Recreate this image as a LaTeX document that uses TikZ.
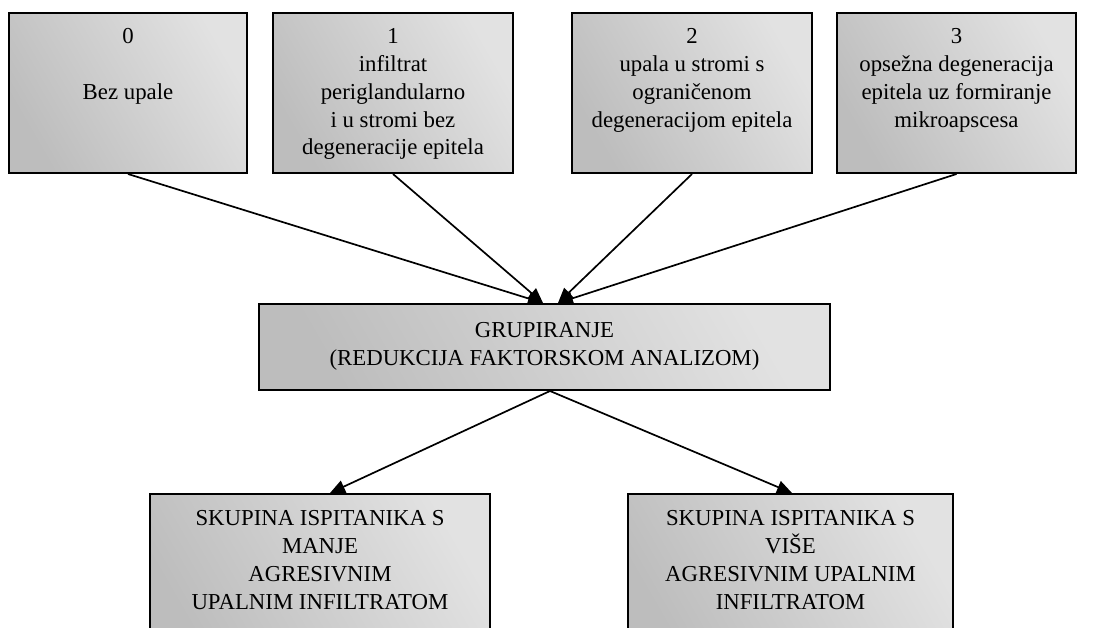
\documentclass[tikz,border=0pt]{standalone}
\usepackage{fontspec}
\setmainfont{Liberation Serif}
\usetikzlibrary{arrows.meta}
\definecolor{gdark}{HTML}{BDBDBD}
\definecolor{glight}{HTML}{E2E2E2}
\tikzset{
  gbox/.style={draw=black, line width=2pt, rectangle, inner sep=0pt,
    left color=gdark, right color=glight, shading angle=120},
  txt/.style={font=\fontsize{22.8}{27.8}\selectfont, align=center, inner sep=0pt, anchor=north},
  ctxt/.style={font=\fontsize{22.8}{27.8}\selectfont, align=center, inner sep=0pt},
  conn/.style={line width=1.7pt, -{Triangle[length=15pt,width=13pt]}}
}
\begin{document}
\begin{tikzpicture}[x=1pt,y=1pt]
\useasboundingbox (0,0) rectangle (1105,-628);
\fill[white] (0,0) rectangle (1105,-628);
% top boxes
\node[gbox, minimum width=238, minimum height=160] (b0) at (128,-93) {};
\node[gbox, minimum width=240, minimum height=160] (b1) at (393,-93) {};
\node[gbox, minimum width=240, minimum height=160] (b2) at (692,-93) {};
\node[gbox, minimum width=239, minimum height=160] (b3) at (956.5,-93) {};
\node[txt] (t0) at ([yshift=-16.5]b0.north) {0\\[27.8pt]Bez upale};
\node[txt] (t1) at ([yshift=-16.5]b1.north) {1\\infiltrat\\periglandularno\\i u stromi bez\\degeneracije epitela};
\node[txt] (t2) at ([yshift=-16.5]b2.north) {2\\upala u stromi s\\ograničenom\\degeneracijom epitela};
\node[txt] (t3) at ([yshift=-16.5]b3.north) {3\\opsežna degeneracija\\epitela uz formiranje\\mikroapscesa};
% middle box
\node[gbox, minimum width=571, minimum height=86] (g) at (544.5,-347) {};
\node[ctxt] (tg) at ([yshift=1]g.center) {GRUPIRANJE\\(REDUKCIJA FAKTORSKOM ANALIZOM)};
% bottom boxes
\node[gbox, minimum width=340, minimum height=166] (bl) at (320,-577) {};
\node[gbox, minimum width=325, minimum height=166] (br) at (790.5,-577) {};
\node[txt] (tl) at ([yshift=-17.5]bl.north) {SKUPINA ISPITANIKA S\\MANJE\\AGRESIVNIM\\UPALNIM INFILTRATOM};
\node[txt] (tr) at ([yshift=-17.5]br.north) {SKUPINA ISPITANIKA S\\VIŠE\\AGRESIVNIM UPALNIM\\INFILTRATOM};
% connectors
\draw[conn] (b0.south) -- ([xshift=-1.5]g.north);
\draw[conn] (b1.south) -- ([xshift=-1.5]g.north);
\draw[conn] (b2.south) -- ([xshift=13.5]g.north);
\draw[conn] (b3.south) -- ([xshift=13.5]g.north);
\draw[conn] ([xshift=5.5]g.south) -- ([xshift=10]bl.north);
\draw[conn] ([xshift=5.5]g.south) -- ([xshift=1.5]br.north);
\end{tikzpicture}
\end{document}
